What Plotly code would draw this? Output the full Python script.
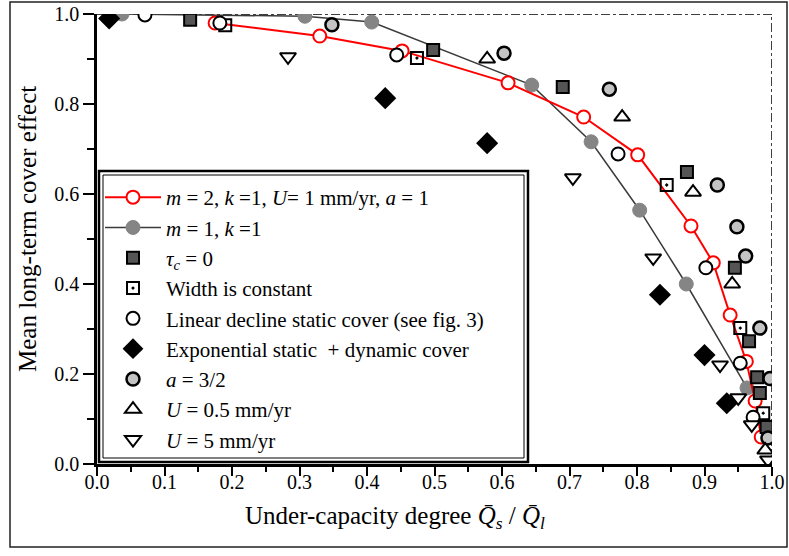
import plotly.graph_objects as go

# ---------------- data ----------------
red_x = [0.175, 0.33, 0.452, 0.609, 0.721, 0.801, 0.88, 0.913, 0.938, 0.962, 0.975, 0.984]
red_y = [0.98, 0.951, 0.918, 0.847, 0.771, 0.687, 0.529, 0.447, 0.331, 0.228, 0.14, 0.06]

gray_x = [0.037, 0.308, 0.407, 0.644, 0.732, 0.804, 0.873, 0.963]
gray_y = [1.0, 0.995, 0.982, 0.842, 0.716, 0.564, 0.40, 0.169]

tau_x = [0.138, 0.498, 0.690, 0.874, 0.945, 0.966, 0.978, 0.982, 0.992]
tau_y = [0.987, 0.92, 0.838, 0.649, 0.436, 0.273, 0.193, 0.158, 0.082]

width_x = [0.19, 0.474, 0.844, 0.953, 0.987]
width_y = [0.975, 0.902, 0.62, 0.302, 0.113]

lin_x = [0.071, 0.182, 0.444, 0.772, 0.902, 0.953, 0.972]
lin_y = [0.998, 0.98, 0.909, 0.689, 0.436, 0.224, 0.104]

exp_x = [0.018, 0.427, 0.578, 0.834, 0.9, 0.933]
exp_y = [0.99, 0.813, 0.713, 0.376, 0.242, 0.135]

a32_x = [0.348, 0.603, 0.759, 0.919, 0.948, 0.961, 0.982, 0.997, 0.994]
a32_y = [0.976, 0.913, 0.833, 0.62, 0.527, 0.462, 0.302, 0.19, 0.058]

u05_x = [0.578, 0.778, 0.883, 0.941, 0.99]
u05_y = [0.9, 0.771, 0.604, 0.4, 0.031]

u5_x = [0.283, 0.705, 0.824, 0.923, 0.95, 0.97, 0.994]
u5_y = [0.905, 0.636, 0.458, 0.22, 0.147, 0.087, 0.009]

names = [
    "<i>m</i> = 2, <i>k</i> =1, <i>U</i>= 1 mm/yr, <i>a</i> = 1",
    "<i>m</i> = 1, <i>k</i> =1",
    "<i>τ</i><sub><i>c</i></sub> = 0",
    "Width is constant",
    "Linear decline static cover (see fig. 3)",
    "Exponential static  + dynamic cover",
    "<i>a</i> = 3/2",
    "<i>U</i> = 0.5 mm/yr",
    "<i>U</i> = 5 mm/yr",
]

x_ticks = [0.0, 0.1, 0.2, 0.3, 0.4, 0.5, 0.6, 0.7, 0.8, 0.9, 1.0]
y_ticks = [0.0, 0.2, 0.4, 0.6, 0.8, 1.0]

FONT = "Liberation Serif"

fig = go.Figure()

# gray line (m=1)
fig.add_trace(go.Scatter(
    x=gray_x, y=gray_y, mode="lines+markers", name=names[1], legendrank=2,
    line=dict(color="#3a3a3a", width=1.5),
    marker=dict(symbol="circle", size=14, color="#858585", line=dict(color="#858585", width=1))))
# red line (m=2)
fig.add_trace(go.Scatter(
    x=red_x, y=red_y, mode="lines+markers", name=names[0], legendrank=1,
    line=dict(color="#ff0000", width=2),
    marker=dict(symbol="circle", size=13, color="white", line=dict(color="#ff0000", width=2))))

mk = dict(width=2, color="black")
fig.add_trace(go.Scatter(x=tau_x, y=tau_y, mode="markers", name=names[2], legendrank=3,
                         marker=dict(symbol="square", size=12, color="#555555", line=mk)))
fig.add_trace(go.Scatter(x=width_x, y=width_y, mode="markers", name=names[3], legendrank=4,
                         marker=dict(symbol="square-open-dot", size=12, color="black", line=mk)))
fig.add_trace(go.Scatter(x=lin_x, y=lin_y, mode="markers", name=names[4], legendrank=5,
                         marker=dict(symbol="circle", size=13, color="white", line=mk)))
fig.add_trace(go.Scatter(x=exp_x, y=exp_y, mode="markers", name=names[5], legendrank=6,
                         marker=dict(symbol="diamond", size=17, color="black", line=dict(width=0))))
fig.add_trace(go.Scatter(x=a32_x, y=a32_y, mode="markers", name=names[6], legendrank=7,
                         marker=dict(symbol="circle", size=13, color="#c4c4c4", line=dict(width=2.5, color="black"))))
fig.add_trace(go.Scatter(x=u05_x, y=u05_y, mode="markers", name=names[7], legendrank=8,
                         marker=dict(symbol="triangle-up", size=14, color="white", line=mk)))
fig.add_trace(go.Scatter(x=u5_x, y=u5_y, mode="markers", name=names[8], legendrank=9,
                         marker=dict(symbol="triangle-down", size=14, color="white", line=mk)))

# pixel helpers for layout (plot area 97..772 x 14..464)
L, R, T, B = 97, 772, 14, 464
def px(xp):
    return (xp - L) / (R - L)
def py(yp):
    return (B - yp) / (B - T)

shapes = [
    # outer figure frame
    dict(type="rect", xref="paper", yref="paper", x0=px(10), x1=px(787), y0=py(547), y1=py(2),
         line=dict(color="#222222", width=1.5), layer="below"),
    # legend double box
    dict(type="rect", xref="paper", yref="paper", x0=px(99), x1=px(528), y0=py(462), y1=py(171),
         line=dict(color="black", width=2.5), fillcolor="white", layer="below"),
    dict(type="rect", xref="paper", yref="paper", x0=px(103), x1=px(524), y0=py(458), y1=py(175),
         line=dict(color="black", width=1), layer="below"),
    # dash-dot reference lines
    dict(type="line", xref="x", yref="y", x0=0, x1=1.0, y0=1.0, y1=1.0,
         line=dict(color="black", width=1.5, dash="dashdot"), layer="below"),
    dict(type="line", xref="x", yref="y", x0=1.0, x1=1.0, y0=0, y1=1.0,
         line=dict(color="black", width=1.5, dash="dashdot"), layer="below"),
]

annotations = [
    dict(text="Under-capacity degree <i>Q̄</i><sub><i>s</i></sub> / <i>Q̄</i><sub><i>l</i></sub>",
         xref="paper", yref="paper", x=px(395), y=py(517), xanchor="center", yanchor="middle",
         showarrow=False, font=dict(family=FONT, size=25, color="black")),
    dict(text="Mean long-term cover effect", textangle=-90,
         xref="paper", yref="paper", x=px(28), y=py(229), xanchor="center", yanchor="middle",
         showarrow=False, font=dict(family=FONT, size=25, color="black")),
]

fig.update_layout(
    width=789, height=556, autosize=False,
    margin=dict(l=L, r=789 - R, t=T, b=556 - B, pad=0, autoexpand=False),
    paper_bgcolor="white", plot_bgcolor="white",
    font=dict(family=FONT, size=20, color="black"),
    shapes=shapes, annotations=annotations,
    legend=dict(x=px(100), y=py(177), xanchor="left", yanchor="top",
                bgcolor="rgba(0,0,0,0)", borderwidth=0,
                font=dict(family=FONT, size=21, color="black"),
                itemwidth=56, tracegroupgap=0),
    xaxis=dict(range=[0, 1.0], tickvals=x_ticks, tickformat=".1f", automargin=False,
               showline=True, linecolor="black", linewidth=2.5,
               ticks="outside", ticklen=9, tickwidth=2, tickcolor="black",
               minor=dict(dtick=0.05, ticks="outside", ticklen=5, tickwidth=1.5, tickcolor="black"),
               showgrid=False, zeroline=False, ticklabelstandoff=-11,
               tickfont=dict(family=FONT, size=20, color="black")),
    yaxis=dict(range=[0, 1.0], tickvals=y_ticks, tickformat=".1f", automargin=False,
               showline=True, linecolor="black", linewidth=2.5,
               ticks="outside", ticklen=11, tickwidth=2, tickcolor="black",
               minor=dict(dtick=0.1, ticks="outside", ticklen=7, tickwidth=1.5, tickcolor="black"),
               showgrid=False, zeroline=False,
               tickfont=dict(family=FONT, size=20, color="black")),
)

page_fix = ("document.documentElement.style.margin='0';"
            "document.body.style.margin='0';document.body.style.padding='0';"
            "document.body.style.overflow='hidden';")
fig.write_html("out.html", post_script=page_fix, config={"displayModeBar": False})
